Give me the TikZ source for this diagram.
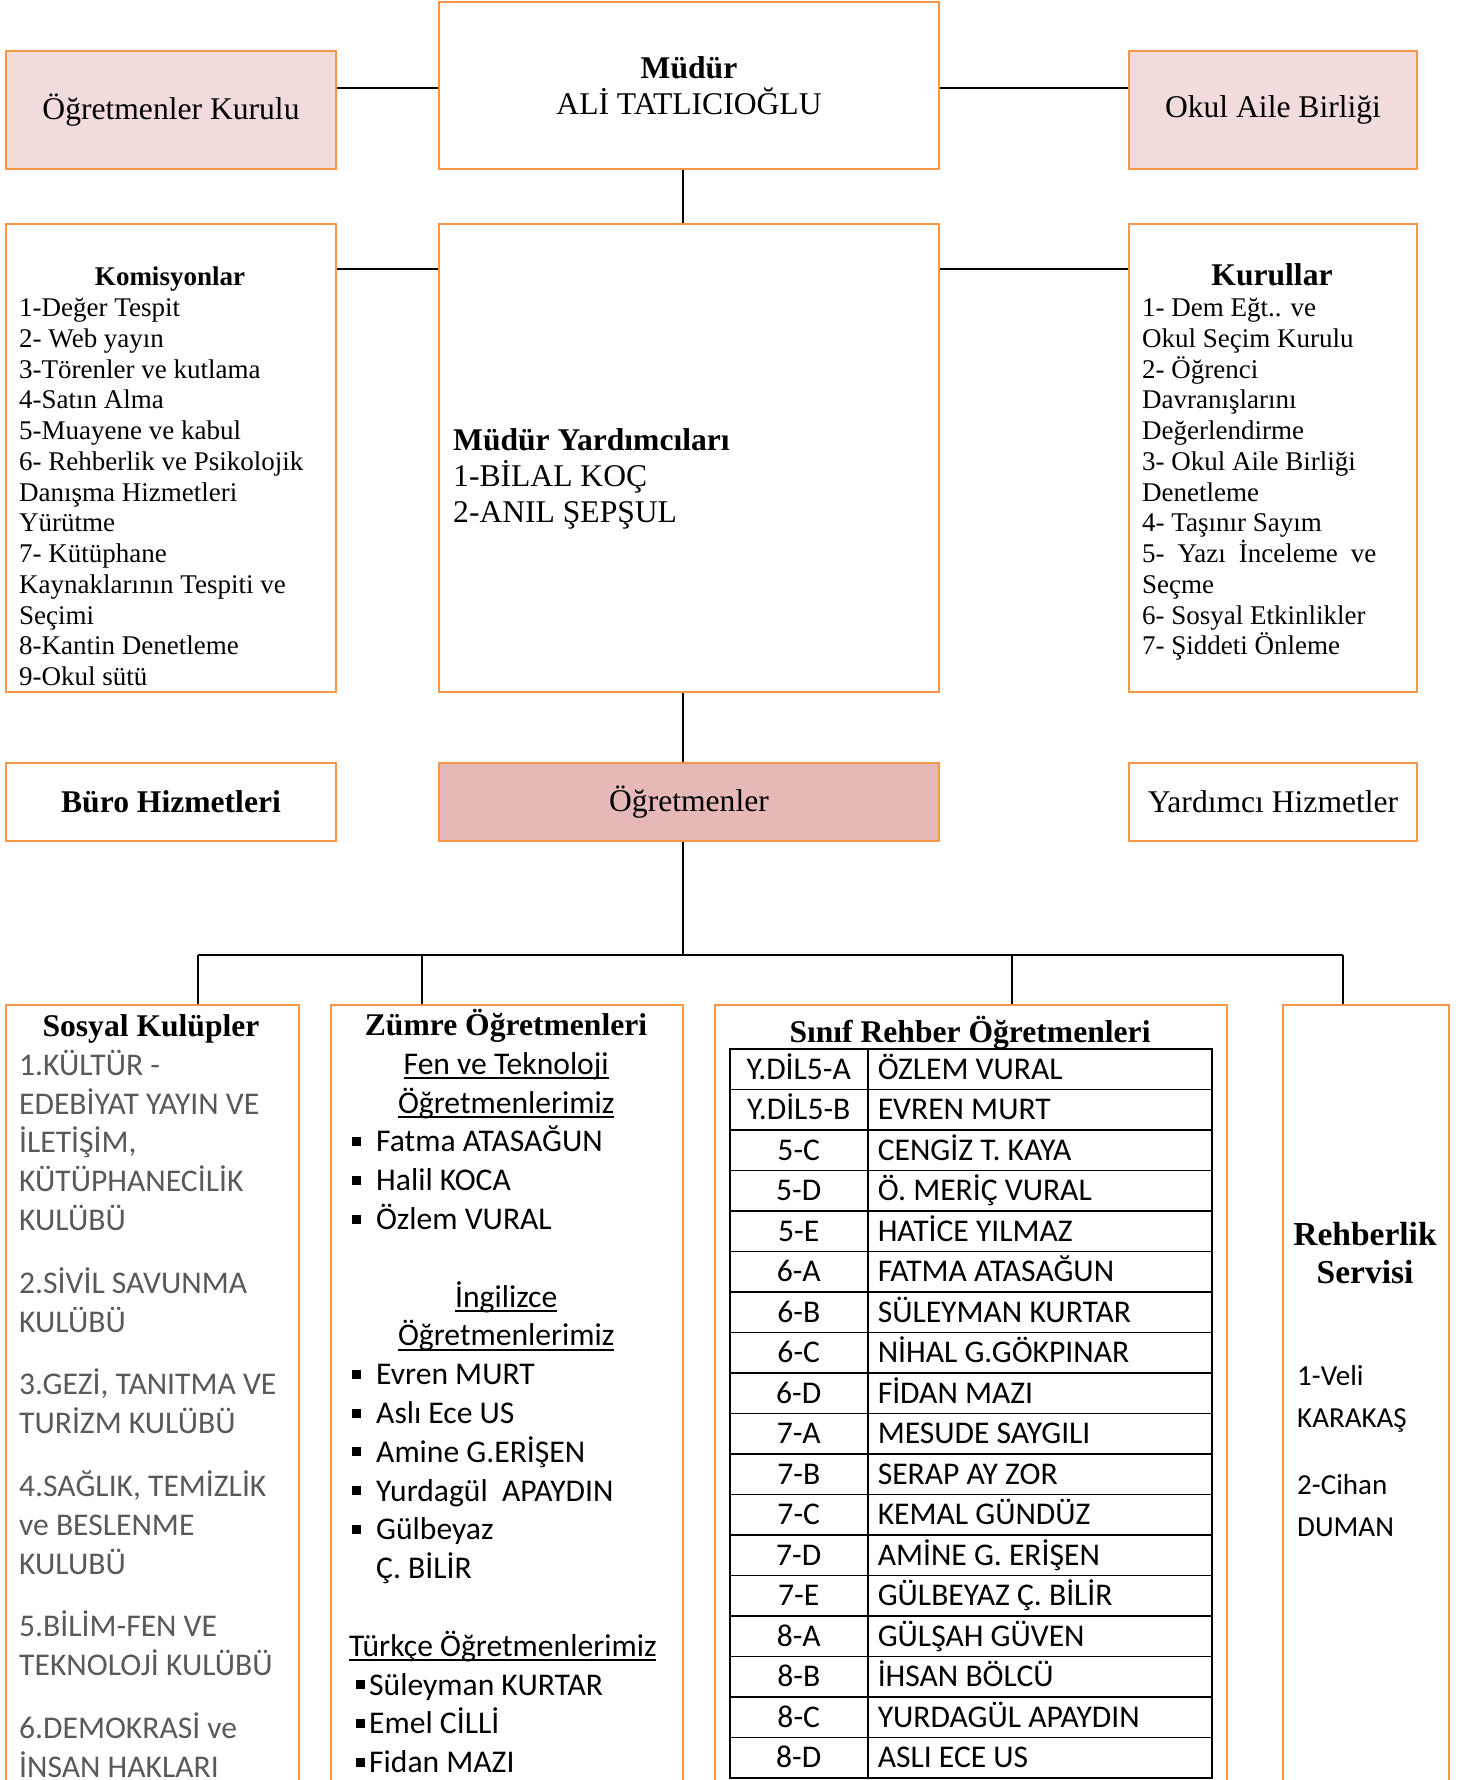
\documentclass[tikz,border=0pt]{standalone}
\usepackage{fontspec}
\setmainfont{Liberation Serif}
\newfontfamily\calibri{Carlito}
\usetikzlibrary{calc}
\definecolor{kenar}{HTML}{F79646}
\definecolor{acikpembe}{HTML}{F2DCDB}
\definecolor{pembe}{HTML}{E6B9B8}
\definecolor{gri}{HTML}{595959}
\newcommand{\ust}{\rule{0pt}{1em}}
\newcommand{\kare}{\rule[6pt]{9pt}{9pt}}
\newcommand{\altcizgi}[1]{\setbox0\hbox{#1}\rlap{\rule[-5pt]{\wd0}{2pt}}\box0}
\newcommand{\ondort}{\fontsize{31.6}{36.3}\selectfont}
\newcommand{\oniki}{\fontsize{27}{30.75}\selectfont}
\newcommand{\kalibri}{\calibri\fontsize{31.6}{38.8}\selectfont}

\begin{document}
\begin{tikzpicture}[x=1pt,y=-1pt,
  kutu/.style={draw=kenar, line width=2pt, rectangle, anchor=north west, inner sep=0pt},
  hat/.style={line width=1.8pt},
  hucre/.style={draw, line width=1.5pt, rectangle, anchor=north west, minimum height=40.5pt, inner sep=0pt, text height=21pt, text depth=1pt, font=\kalibri}]
\useasboundingbox (0,0) rectangle (1459,1780);
\clip (0,0) rectangle (1459,1780);

% ust sira
\node[kutu, fill=acikpembe, minimum width=330pt, minimum height=118pt, font=\ondort] (ogrKurulu) at (5,50) {Öğretmenler Kurulu};
\node[kutu, minimum width=500pt, minimum height=167pt, align=center, font=\ondort] (mudur) at (438,1) {\textbf{Müdür}\\ALİ TATLICIOĞLU};
\node[kutu, fill=acikpembe, minimum width=288pt, minimum height=118pt, font=\ondort] (okulAile) at (1128,50) {Okul Aile Birliği};
\draw[hat] ([yshift=-38pt]ogrKurulu.north east) -- ([yshift=-38pt]ogrKurulu.north east -| mudur.west);
\draw[hat] ([yshift=-38pt]okulAile.north west) -- ([yshift=-38pt]okulAile.north west -| mudur.east);

% ikinci sira
\node[kutu, minimum width=330pt, minimum height=468pt] (komisyon) at (5,223) {};
\node[kutu, minimum width=500pt, minimum height=468pt] (mudurYrd) at (438,223) {};
\node[kutu, minimum width=288pt, minimum height=468pt] (kurullar) at (1128,223) {};
\coordinate (dikey) at (683,0);
\draw[hat] (dikey |- mudur.south) -- (dikey |- mudurYrd.north);
\draw[hat] ([yshift=-46pt]komisyon.north east) -- ([yshift=-46pt]komisyon.north east -| mudurYrd.west);
\draw[hat] ([yshift=-46pt]kurullar.north west) -- ([yshift=-46pt]kurullar.north west -| mudurYrd.east);

\node[anchor=base, font=\oniki\bfseries] (komBaslik) at (170,285.5) {Komisyonlar};
\node[anchor=north west, inner sep=0pt, align=left, font=\oniki] (komListe) at (19,289.5) {\ust 1-Değer Tespit\\2- Web yayın\\3-Törenler ve kutlama\\4-Satın Alma\\5-Muayene ve kabul\\6- Rehberlik ve Psikolojik\\Danışma Hizmetleri\\Yürütme\\7- Kütüphane\\Kaynaklarının Tespiti ve\\Seçimi\\8-Kantin Denetleme\\9-Okul sütü};
\node[anchor=north west, inner sep=0pt, align=left, font=\ondort] (myMetin) at (453,418.5) {\ust\textbf{Müdür Yardımcıları}\\1-BİLAL KOÇ\\2-ANIL ŞEPŞUL};
\node[anchor=base, font=\ondort\bfseries] (kurBaslik) at (1272,285) {Kurullar};
\node[anchor=north west, inner sep=0pt, align=left, font=\oniki] (kurListe) at (1142,289.5) {\ust 1- Dem Eğt.. ve\\Okul Seçim Kurulu\\2- Öğrenci\\Davranışlarını\\Değerlendirme\\3- Okul Aile Birliği\\Denetleme\\4- Taşınır Sayım\\\makebox[234pt][s]{5- Yazı İnceleme ve}\\Seçme\\6- Sosyal Etkinlikler\\7- Şiddeti Önleme};

% ucuncu sira
\node[kutu, minimum width=330pt, minimum height=78pt, font=\ondort\bfseries] (buro) at (5,762) {Büro Hizmetleri};
\node[kutu, fill=pembe, minimum width=500pt, minimum height=78pt, font=\ondort] (ogretmenler) at (438,762) {Öğretmenler};
\node[kutu, minimum width=288pt, minimum height=78pt, font=\ondort] (yardimci) at (1128,762) {Yardımcı Hizmetler};
\draw[hat] (dikey |- mudurYrd.south) -- (dikey |- ogretmenler.north);

% alt sira
\node[kutu, minimum width=293pt, minimum height=820pt] (sosyal) at (5,1004) {};
\node[kutu, minimum width=352pt, minimum height=820pt] (zumre) at (330,1004) {};
\node[kutu, minimum width=512pt, minimum height=820pt] (sinif) at (714,1004) {};
\node[kutu, minimum width=166pt, minimum height=820pt] (rehberlik) at (1282,1004) {};

\coordinate (bara) at (683,955);
\coordinate (bara1) at (198,955);
\coordinate (bara2) at (422,955);
\coordinate (bara3) at (1012,955);
\coordinate (bara4) at (1343,955);
\draw[hat] (bara |- ogretmenler.south) -- (bara);
\draw[hat] (bara1) -- (bara4);
\draw[hat] (bara1) -- (bara1 |- sosyal.north);
\draw[hat] (bara2) -- (bara2 |- zumre.north);
\draw[hat] (bara3) -- (bara3 |- sinif.north);
\draw[hat] (bara4) -- (bara4 |- rehberlik.north);

\node[anchor=base, font=\ondort\bfseries] (sosBaslik) at (151,1036) {Sosyal Kulüpler};
\node[anchor=north west, inner sep=0pt, align=left, font=\kalibri, text=gri] (sosListe) at (19,1043.5) {\ust 1.KÜLTÜR -\\EDEBİYAT YAYIN VE\\İLETİŞİM,\\KÜTÜPHANECİLİK\\KULÜBÜ\\[24pt]2.SİVİL SAVUNMA\\KULÜBÜ\\[24pt]3.GEZİ, TANITMA VE\\TURİZM KULÜBÜ\\[24pt]4.SAĞLIK, TEMİZLİK\\ve BESLENME\\KULUBÜ\\[24pt]5.BİLİM-FEN VE\\TEKNOLOJİ KULÜBÜ\\[24pt]6.DEMOKRASİ ve\\İNSAN HAKLARI};

\node[anchor=base, font=\ondort\bfseries] (zumBaslik) at (506,1035) {Zümre Öğretmenleri};
\node[anchor=north west, inner sep=0pt, align=left, font=\kalibri] (zumListe) at (349,1042.5) {\ust\makebox[314pt]{\altcizgi{Fen ve Teknoloji}}\\\makebox[314pt]{\altcizgi{Öğretmenlerimiz}}\\\hspace*{3pt}\makebox[24pt][l]{\kare}Fatma ATASAĞUN\\\hspace*{3pt}\makebox[24pt][l]{\kare}Halil KOCA\\\hspace*{3pt}\makebox[24pt][l]{\kare}Özlem VURAL\\[38.8pt]\makebox[314pt]{\altcizgi{İngilizce}}\\\makebox[314pt]{\altcizgi{Öğretmenlerimiz}}\\\hspace*{3pt}\makebox[24pt][l]{\kare}Evren MURT\\\hspace*{3pt}\makebox[24pt][l]{\kare}Aslı Ece US\\\hspace*{3pt}\makebox[24pt][l]{\kare}Amine G.ERİŞEN\\\hspace*{3pt}\makebox[24pt][l]{\kare}Yurdagül\ \ APAYDIN\\\hspace*{3pt}\makebox[24pt][l]{\kare}Gülbeyaz\\\hspace*{27pt}Ç. BİLİR\\[38.8pt]\altcizgi{Türkçe Öğretmenlerimiz}\\\hspace*{7pt}\makebox[13pt][l]{\kare}Süleyman KURTAR\\\hspace*{7pt}\makebox[13pt][l]{\kare}Emel CİLLİ\\\hspace*{7pt}\makebox[13pt][l]{\kare}Fidan MAZI};

\node[anchor=base, font=\ondort\bfseries] (sinBaslik) at (970,1042) {Sınıf Rehber Öğretmenleri};
\foreach \sube/\ogretmen [count=\i] in {Y.DİL5-A/ÖZLEM VURAL, Y.DİL5-B/EVREN MURT, 5-C/CENGİZ T. KAYA, 5-D/Ö. MERİÇ VURAL, 5-E/HATİCE YILMAZ, 6-A/FATMA ATASAĞUN, 6-B/SÜLEYMAN KURTAR, 6-C/NİHAL G.GÖKPINAR, 6-D/FİDAN MAZI, 7-A/MESUDE SAYGILI, 7-B/SERAP AY ZOR, 7-C/KEMAL GÜNDÜZ, 7-D/AMİNE G. ERİŞEN, 7-E/GÜLBEYAZ Ç. BİLİR, 8-A/GÜLŞAH GÜVEN, 8-B/İHSAN BÖLCÜ, 8-C/YURDAGÜL APAYDIN, 8-D/ASLI ECE US}{
  \pgfmathsetmacro\satir{1048+40.5*(\i-1)}
  \node[hucre, minimum width=138pt] (sube\i) at (729,\satir) {\sube};
  \node[hucre, minimum width=344pt] (ogretmen\i) at (867,\satir) {\makebox[324pt][l]{\ogretmen}};
}

\node[anchor=north, inner sep=0pt, align=center, font=\fontsize{33.5}{38}\selectfont\bfseries] (rehBaslik) at (1365,1212) {\ust Rehberlik\\Servisi};
\node[anchor=north west, inner sep=0pt, align=left, font=\calibri\fontsize{29}{42}\selectfont] (rehListe) at (1297,1356) {\ust 1-Veli\\KARAKAŞ\\[25pt]2-Cihan\\DUMAN};

\end{tikzpicture}
\end{document}
